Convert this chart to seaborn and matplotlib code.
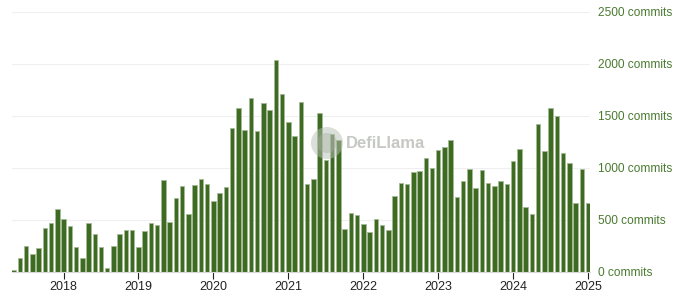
import matplotlib
matplotlib.use("Agg")
import matplotlib.pyplot as plt
import seaborn as sns
import pandas as pd
import numpy as np
from matplotlib.patches import Ellipse

months = pd.date_range("2017-05-01", "2025-01-01", freq="MS")
commits = [
    20, 135, 250, 173, 228, 420, 468, 603,
    503, 436, 237, 128, 471, 359, 237, 38, 244, 365, 404, 397,
    234, 391, 471, 449, 885, 478, 705, 827, 551, 830, 891, 842,
    676, 760, 815, 1381, 1574, 1362, 1673, 1353, 1619, 1551, 2038, 1705,
    1439, 1304, 1628, 840, 888, 1529, 1070, 1320, 1265, 415, 567, 546,
    460, 381, 506, 445, 404, 731, 849, 840, 962, 965, 1093, 997,
    1173, 1199, 1266, 715, 875, 987, 801, 978, 851, 822, 870, 842,
    1062, 1177, 620, 558, 1420, 1157, 1570, 1500, 1138, 1045, 657, 984,
    660,
]
year_labels = [str(y) for y in range(2018, 2026)]
y_ticks = [0, 500, 1000, 1500, 2000, 2500]

df = pd.DataFrame({"idx": np.arange(len(months)), "month": months, "commits": commits})

sns.set_theme(style="white")
plt.rcParams["font.family"] = ["Liberation Sans", "DejaVu Sans"]

fig = plt.figure(figsize=(6.82, 3.01), dpi=100)
ax = fig.add_axes([12 / 682, 29.3 / 301, (590 - 12) / 682, (271.7 - 11.7) / 301])

sns.barplot(data=df, x="idx", y="commits", ax=ax, color="#3d6b21",
            saturation=1, width=0.72, edgecolor="#a7ba98", linewidth=0.6,
            native_scale=True)

ax.set_xlim(-0.25, len(months) - 1 + 0.3)
ax.set_ylim(0, 2500)

tick_pos = [int(df.index[(df.month.dt.year == int(y)) & (df.month.dt.month == 1)][0]) for y in year_labels]
ax.set_xticks(tick_pos)
ax.set_xticklabels(year_labels, fontsize=9, color="#222222")
ax.tick_params(axis="x", direction="out", length=5, width=0.8, color="#222222", pad=2, bottom=True)

ax.yaxis.tick_right()
ax.set_yticks(y_ticks)
ax.set_yticklabels([f"{v} commits" for v in y_ticks], fontsize=8.6, color="#4a7a30")
ax.tick_params(axis="y", length=0, pad=6)
ax.grid(axis="y", color="#efefef", linewidth=0.8)
ax.set_axisbelow(True)

for s in ["top", "right", "left"]:
    ax.spines[s].set_visible(False)
ax.spines["bottom"].set_color("#d8d8d8")
ax.spines["bottom"].set_linewidth(0.8)
ax.set_xlabel("")
ax.set_ylabel("")

# watermark
fig.patches.append(Ellipse((327 / 682, 1 - 143 / 301), 32 / 682, 32 / 301, transform=fig.transFigure,
                           facecolor="#b8c0b4", edgecolor="none", alpha=0.5, zorder=10,
                           figure=fig))
fig.patches.append(Ellipse((327 / 682, 1 - 143 / 301), 20 / 682, 20 / 301, transform=fig.transFigure,
                           facecolor="#a3ad9e", edgecolor="none", alpha=0.4, zorder=10,
                           figure=fig))
fig.text(346 / 682, 1 - 143 / 301, "DefiLlama", fontsize=12, fontweight="bold",
         color="#bcbfba", alpha=0.85, ha="left", va="center", zorder=11)

fig.savefig("out.png", dpi=100)
